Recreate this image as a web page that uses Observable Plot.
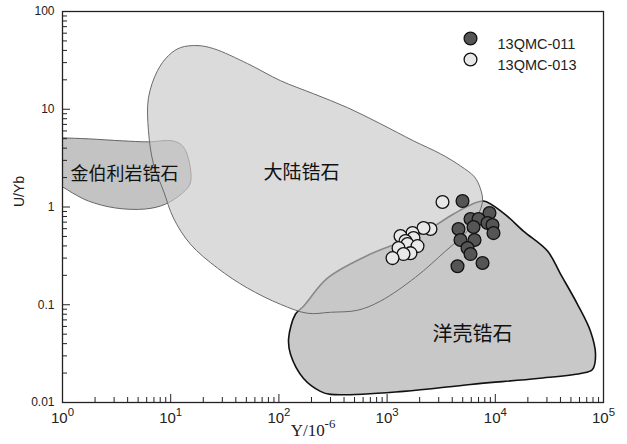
<!DOCTYPE html>
<html><head><meta charset="utf-8">
<script src="https://cdn.jsdelivr.net/npm/d3@7"></script>
<script src="https://cdn.jsdelivr.net/npm/@observablehq/plot@0.6"></script>
<style>body{margin:0;background:#fff;} #chart{width:627px;height:444px;}</style>
</head><body><div id="chart"></div>
<script>
// Field boundaries: [Y (ppm), U/Yb]
const oceanic = [[7780,1.15],[11900,0.867],[18200,0.567],[30400,0.354],[40100,0.206],[57500,0.101],[75800,0.0535],[84400,0.0311],[79100,0.0218],[61300,0.0198],[24500,0.0176],[5900,0.0153],[1418,0.0130],[300,0.0121],[242,0.0130],[169,0.0176],[128,0.0311],[123,0.0453],[142,0.080],[169,0.0966],[281,0.187],[703,0.330],[2036,0.528],[4110,0.847],[5900,1.05]];
const continental = [[12.3,42.7],[17.7,44.8],[24.9,41.7],[51.3,29.3],[103.5,19.6],[209,14.4],[430,10.4],[869,7.10],[1754,4.75],[3115,3.50],[4768,2.63],[6425,2.03],[7300,1.53],[7620,1.15],[6847,0.809],[5305,0.541],[3467,0.354],[1830,0.191],[869,0.109],[532,0.0878],[300,0.0838],[184,0.0818],[103.5,0.101],[51.3,0.148],[27.1,0.237],[15.2,0.417],[10.6,0.771],[8.58,1.46],[6.93,2.76],[6.23,6.02],[6.23,13.1],[7.55,24.8],[9.54,35.4]];
const kimberlite = [[0.8,5.15],[1,5.1],[1.74,4.98],[3.59,4.75],[6.23,4.64],[10.4,4.75],[12.85,4.22],[14.6,3.11],[15.2,1.76],[12.85,1.39],[8.95,1.07],[5.85,0.954],[3.09,0.977],[1.74,1.15],[1.24,1.39],[1,1.60],[0.8,1.7]];

// Samples: [Y (ppm), U/Yb]
const sample011 = [[4977,1.15],[8836,0.868],[5900,0.753],[6996,0.753],[8470,0.686],[4571,0.595],[6290,0.624],[9420,0.653],[9620,0.541],[4768,0.459],[6425,0.459],[5534,0.380],[5900,0.330],[7620,0.267],[4474,0.248]];
const sample013 = [[3251,1.126],[2518,0.595],[2170,0.609],[1718,0.541],[1754,0.481],[1330,0.505],[1479,0.448],[1544,0.418],[1910,0.398],[1275,0.380],[1644,0.337],[1418,0.330],[1122,0.300]];

const fieldLabels = ["金伯利岩锆石","大陆锆石","洋壳锆石"];
const fieldLabelX = [3.74, 162, 6155];
const fieldLabelY = [2.18, 2.23, 0.0498];
const fieldLabelSize = [18, 19, 20];

const legendNames = ["13QMC-011","13QMC-013"];
const legendFills = ["#555555","#e8e8e8"];

const majorX = [1,10,100,1000,10000,100000];
const majorY = [0.01,0.1,1,10,100];
const mult = [2,3,4,5,6,7,8,9];
const minorX = majorX.slice(0,-1).flatMap(d => mult.map(m => d*m));
const minorY = majorY.slice(0,-1).flatMap(d => mult.map(m => d*m));

const X = d => d[0], Y = d => d[1];
const labels = fieldLabels.map((t,i)=>({t, x:fieldLabelX[i], y:fieldLabelY[i], s:fieldLabelSize[i]}));

const plot = Plot.plot({
  width: 627, height: 444,
  marginLeft: 62, marginRight: 24, marginTop: 11, marginBottom: 42,
  style: {fontFamily: "'Liberation Sans', Arial, sans-serif", fontSize: "12px", background: "#fff", color: "#222"},
  x: {type: "log", domain: [1, 1e5]},
  y: {type: "log", domain: [0.01, 100]},
  marks: [
    Plot.line(oceanic, {x: X, y: Y, curve: "catmull-rom-closed", fill: "#c8c8c8", stroke: "#111", strokeWidth: 1.6, clip: true}),
    Plot.line(kimberlite, {x: X, y: Y, curve: "catmull-rom-closed", fill: "#c3c3c3", stroke: "#666", strokeWidth: 1, clip: true}),
    Plot.line(continental, {x: X, y: Y, curve: "catmull-rom-closed", fill: "#c8c8c8", fillOpacity: 0.66, stroke: "#6a6a6a", strokeWidth: 1, clip: true}),
    ...labels.map(l => Plot.text([l], {x: "x", y: "y", text: "t", fontSize: l.s, fill: "#111", fontFamily: "'Noto Sans CJK SC', sans-serif"})),
    Plot.frame({stroke: "#222", strokeWidth: 1.3}),
    Plot.axisX(minorX, {tickSize: -5, tickFormat: () => "", label: null}),
    Plot.axisX(majorX, {tickSize: -8, tickFormat: () => "", label: null}),
    Plot.axisX(majorX, {tickSize: 0, tickPadding: 10, fontSize: 15, tickFormat: d => "10^" + Math.round(Math.log10(d)), label: null}),
    Plot.axisY(minorY, {tickSize: -5, tickFormat: () => "", label: null}),
    Plot.axisY(majorY, {tickSize: -8, tickFormat: () => "", label: null}),
    Plot.axisY(majorY, {tickSize: 0, tickPadding: 8, fontSize: 12, tickFormat: d => String(d), label: null}),
    Plot.text(["U/Yb"], {text: d => d, frameAnchor: "left", dx: -43, rotate: -90, fontSize: 14}),
    Plot.text(["Y/10^-6"], {text: d => d, frameAnchor: "bottom", dx: -20, dy: 33, fontSize: 17, fontFamily: "'Liberation Serif', 'Times New Roman', serif"}),
    Plot.dot(sample013, {x: X, y: Y, r: 6.4, fill: legendFills[1], stroke: "#111", strokeWidth: 1.3}),
    Plot.dot(sample011, {x: X, y: Y, r: 6.4, fill: legendFills[0], stroke: "#111", strokeWidth: 1.3}),
    ...legendNames.map((n,i) => Plot.dot([n], {frameAnchor: "top-left", dx: 408, dy: 27 + 21*i, r: 6.4, fill: legendFills[i], stroke: "#111", strokeWidth: 1.3})),
    ...legendNames.map((n,i) => Plot.text([n], {text: d => d, frameAnchor: "top-left", dx: 435, dy: 27 + 21*i, textAnchor: "start", fontSize: 14.5, fill: "#222"}))
  ]
});

d3.select(plot).selectAll("text").each(function(){
  const t = this.textContent;
  const m = /^(.*10)\^(-?\d+)$/.exec(t);
  if (!m) return;
  const sel = d3.select(this);
  sel.text(null);
  sel.append("tspan").text(m[1]);
  sel.append("tspan").attr("dy", "-0.62em").attr("font-size", "0.76em").text(m[2]);
});

document.getElementById("chart").appendChild(plot);
</script></body></html>
